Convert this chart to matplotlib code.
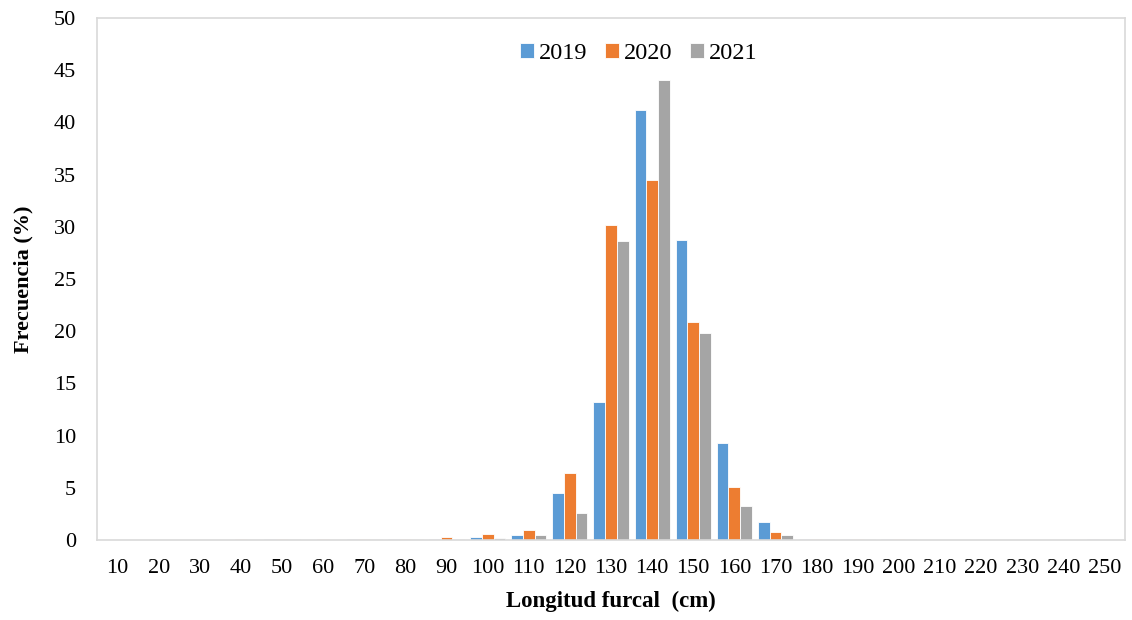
import matplotlib.pyplot as plt
import numpy as np

plt.rcParams['font.family'] = ['Liberation Serif', 'DejaVu Serif']

# Fork length classes (cm) and frequency (%) per year
clases = [10, 20, 30, 40, 50, 60, 70, 80, 90, 100, 110, 120, 130,
          140, 150, 160, 170, 180, 190, 200, 210, 220, 230, 240, 250]
f2019 = [0, 0, 0, 0, 0.05, 0, 0.05, 0.05, 0.05, 0.3, 0.45, 4.5, 13.2,
         41.2, 28.7, 9.3, 1.7, 0.05, 0.05, 0.05, 0, 0, 0, 0, 0.05]
f2020 = [0, 0, 0, 0.05, 0.05, 0.05, 0.05, 0.05, 0.3, 0.6, 0.93, 6.4, 30.2,
         34.5, 20.9, 5.1, 0.75, 0.05, 0.05, 0.05, 0, 0, 0, 0, 0]
f2021 = [0, 0, 0, 0.05, 0.05, 0, 0.05, 0.05, 0.05, 0.2, 0.45, 2.6, 28.6,
         44.1, 19.8, 3.3, 0.45, 0.05, 0.05, 0.05, 0, 0, 0, 0, 0]

series = [("2019", f2019, "#5B9BD5"),
          ("2020", f2020, "#ED7D31"),
          ("2021", f2021, "#A5A5A5")]

fig = plt.figure(figsize=(11.32, 6.2), dpi=100)
ax = fig.add_axes([0.0857, 0.129, 0.9081, 0.842])

x = np.arange(len(clases))
w = 0.285
for i, (nombre, vals, color) in enumerate(series):
    ax.bar(x + (i - 1) * w, vals, width=w, color=color, label=nombre,
           edgecolor="white", linewidth=0.6, zorder=2)

ax.set_xlim(-0.5, len(clases) - 0.5)
ax.set_ylim(0, 50)
ax.set_yticks(range(0, 51, 5))
ax.set_xticks(x)
ax.set_xticklabels([str(c) for c in clases])
ax.tick_params(axis="both", length=0, labelsize=16, colors="black")
ax.tick_params(axis="x", pad=14)
ax.tick_params(axis="y", pad=15)

for s in ax.spines.values():
    s.set_color("#D9D9D9")
    s.set_linewidth(1.2)
ax.spines["bottom"].set_zorder(3)

ax.set_xlabel("Longitud furcal  (cm)", fontsize=16.5, fontweight="bold", labelpad=9)
ax.set_ylabel("Frecuencia (%)", fontsize=16, fontweight="bold", labelpad=15)

ax.legend(loc="center", bbox_to_anchor=(0.527, 0.932), ncol=3, frameon=False,
          fontsize=17.5, handlelength=0.58, handleheight=0.58, handletextpad=0.22,
          columnspacing=0.7, borderpad=0)

fig.savefig("out.png", dpi=100)
